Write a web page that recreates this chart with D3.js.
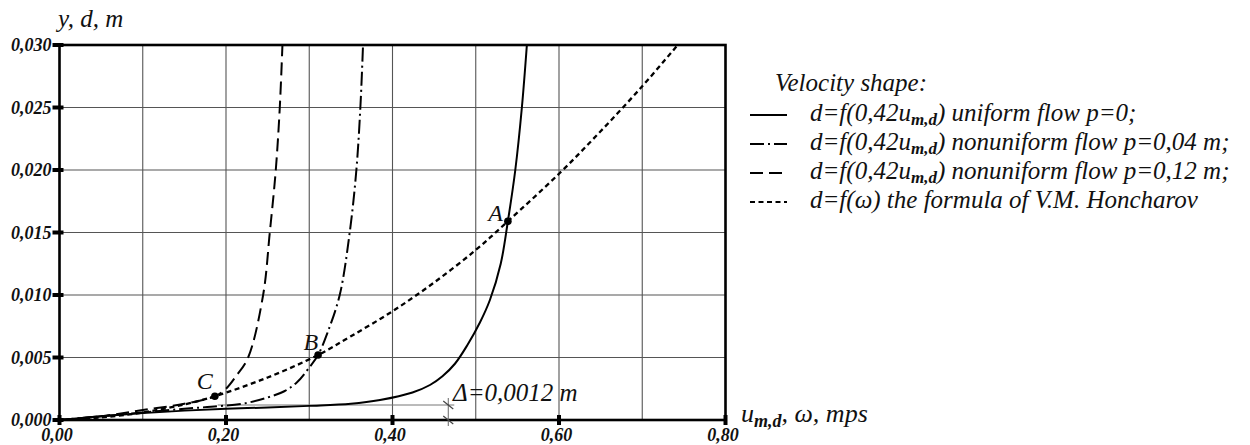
<!DOCTYPE html>
<html>
<head>
<meta charset="utf-8">
<script src="https://cdn.jsdelivr.net/npm/d3@7"></script>
<style>
body { margin: 0; background: #fff; }
text { font-family: "Liberation Serif", "Times New Roman", serif; font-style: italic; fill: #111; }
</style>
</head>
<body>
<div id="chart"></div>
<script>
//Tick values for both axes and the grid
var xTicks = [0, 0.2, 0.4, 0.6, 0.8];
var xGrid = [0, 0.1, 0.2, 0.3, 0.4, 0.5, 0.6, 0.7, 0.8];
var yTicks = [0, 0.005, 0.01, 0.015, 0.02, 0.025, 0.03];

//Curves: [u, d]
var uniformFlow = [[0, 0], [0.05, 0.0003], [0.1, 0.00055], [0.15, 0.00075], [0.2, 0.0009], [0.25, 0.001],
  [0.3, 0.00113], [0.35, 0.0013], [0.385, 0.0016], [0.424, 0.0022], [0.445, 0.0028], [0.46, 0.0035],
  [0.475, 0.0045], [0.49, 0.006], [0.505, 0.0078], [0.517, 0.0096], [0.53, 0.0125], [0.5386, 0.0159],
  [0.5475, 0.02], [0.5554, 0.025], [0.5614, 0.03]];
var flowP004 = [[0, 0], [0.05, 0.0003], [0.1, 0.0006], [0.15, 0.0009], [0.19, 0.0011], [0.22, 0.0013],
  [0.25, 0.0018], [0.27, 0.0023], [0.285, 0.003], [0.3, 0.0042], [0.3106, 0.0052], [0.322, 0.007],
  [0.3366, 0.01], [0.3486, 0.015], [0.3566, 0.02], [0.3614, 0.025], [0.3646, 0.03]];
var flowP012 = [[0, 0], [0.05, 0.0003], [0.1, 0.0008], [0.15, 0.0013], [0.1866, 0.0019], [0.2, 0.0025],
  [0.212, 0.0035], [0.2266, 0.005], [0.2446, 0.01], [0.2526, 0.015], [0.2598, 0.02], [0.2646, 0.025],
  [0.2678, 0.03]];
var honcharov = [[0, 0], [0.05, 0.0002], [0.1, 0.0006], [0.15, 0.00125], [0.1866, 0.0019], [0.25, 0.0034],
  [0.3106, 0.0052], [0.35, 0.0067], [0.4, 0.0087], [0.45, 0.011], [0.5, 0.0136], [0.5386, 0.0159],
  [0.6, 0.0197], [0.65, 0.0231], [0.7, 0.0267], [0.7426, 0.03]];

//Intersection points
var pointNames = ["A", "B", "C"];
var pointU = [0.5386, 0.3106, 0.1866];
var pointD = [0.0159, 0.0052, 0.0019];

//Legend rows
var legendLabels = [
  "uniform flow p=0;",
  "nonuniform flow p=0,04 m;",
  "nonuniform flow p=0,12 m;",
  "the formula of V.M. Honcharov"
];
var legendDash = ["none", "14,4,2,4", "13,6", "5,3.5"];

var width = 1250;
var height = 445;

var svg = d3.select("#chart")
  .append("svg")
  .attr("width", width)
  .attr("height", height);

var x = d3.scaleLinear().domain([0, 0.8]).range([59.5, 725.5]);
var y = d3.scaleLinear().domain([0, 0.03]).range([420, 45]);

var comma = function(f) {
  return function(d) { return d3.format(f)(d).replace(".", ","); };
};

//Grid
svg.append("g")
  .selectAll("line")
  .data(xGrid)
  .enter()
  .append("line")
  .attr("x1", d => x(d)).attr("x2", d => x(d))
  .attr("y1", y(0)).attr("y2", y(0.03))
  .attr("stroke", "#555")
  .attr("stroke-width", 1.1);

svg.append("g")
  .selectAll("line")
  .data(yTicks)
  .enter()
  .append("line")
  .attr("x1", x(0)).attr("x2", x(0.8))
  .attr("y1", d => y(d)).attr("y2", d => y(d))
  .attr("stroke", "#555")
  .attr("stroke-width", 1.1);

//Frame (axes drawn heavier)
svg.append("rect")
  .attr("x", x(0)).attr("y", y(0.03))
  .attr("width", x(0.8) - x(0))
  .attr("height", y(0) - y(0.03))
  .attr("fill", "none")
  .attr("stroke", "#000")
  .attr("stroke-width", 2.6);

//Y axis labels and thick tick marks
var yAxis = d3.axisLeft(y)
  .tickValues(yTicks)
  .tickSize(0)
  .tickPadding(8)
  .tickFormat(comma(".3f"));

svg.append("g")
  .attr("transform", "translate(" + x(0) + ",0)")
  .call(yAxis)
  .call(g => g.select(".domain").remove())
  .selectAll("text")
  .attr("font-size", 18)
  .attr("font-weight", "bold")
  .attr("font-family", "Liberation Serif")
  .attr("font-style", "italic")
  .attr("fill", "#111");

svg.append("g")
  .selectAll("line")
  .data(yTicks)
  .enter()
  .append("line")
  .attr("x1", x(0) - 7).attr("x2", x(0) + 4)
  .attr("y1", d => y(d)).attr("y2", d => y(d))
  .attr("stroke", "#000")
  .attr("stroke-width", 4);

//X axis labels and thick tick marks
var xAxis = d3.axisBottom(x)
  .tickValues(xTicks)
  .tickSize(0)
  .tickFormat(comma(".2f"));

svg.append("g")
  .attr("transform", "translate(0," + y(0) + ")")
  .call(xAxis)
  .call(g => g.select(".domain").remove())
  .selectAll("text")
  .attr("y", 21)
  .attr("dy", 0)
  .attr("dx", -3)
  .attr("font-size", 18)
  .attr("font-weight", "bold")
  .attr("font-family", "Liberation Serif")
  .attr("font-style", "italic")
  .attr("fill", "#111");

svg.append("g")
  .selectAll("line")
  .data(xTicks)
  .enter()
  .append("line")
  .attr("x1", d => x(d)).attr("x2", d => x(d))
  .attr("y1", y(0) - 5).attr("y2", y(0) + 5)
  .attr("stroke", "#000")
  .attr("stroke-width", 4);

//Axis titles
svg.append("text")
  .attr("x", 58)
  .attr("y", 27)
  .attr("font-size", 25)
  .text("y, d, m");

var xTitle = svg.append("text")
  .attr("x", 741)
  .attr("y", 422)
  .attr("font-size", 26);
xTitle.append("tspan").text("u");
xTitle.append("tspan").attr("font-size", 18).attr("font-weight", "bold").attr("dy", 5).text("m,d");
xTitle.append("tspan").attr("dy", -5).text(", ω, mps");

//Delta dimension
var dimX = x(0.467);
svg.append("line")
  .attr("x1", x(0.19)).attr("x2", dimX + 6)
  .attr("y1", y(0.0012)).attr("y2", y(0.0012))
  .attr("stroke", "#777")
  .attr("stroke-width", 1);
svg.append("line")
  .attr("x1", dimX).attr("x2", dimX)
  .attr("y1", y(0.0012) - 7).attr("y2", y(0) + 6)
  .attr("stroke", "#666")
  .attr("stroke-width", 1);
[0.0012, 0].forEach(function(v) {
  svg.append("line")
    .attr("x1", dimX - 5).attr("x2", dimX + 5)
    .attr("y1", y(v) - 4).attr("y2", y(v) + 4)
    .attr("stroke", "#444")
    .attr("stroke-width", 1.2);
});
svg.append("text")
  .attr("x", 453)
  .attr("y", 401)
  .attr("font-size", 25)
  .text("Δ=0,0012 m");

//Curves
var line = d3.line()
  .x(d => x(d[0]))
  .y(d => y(d[1]))
  .curve(d3.curveCatmullRom.alpha(0.5));

var curves = [uniformFlow, flowP004, flowP012, honcharov];
svg.append("g")
  .selectAll("path")
  .data(curves)
  .enter()
  .append("path")
  .attr("d", line)
  .attr("fill", "none")
  .attr("stroke", "#000")
  .attr("stroke-width", (d, i) => i === 3 ? 2.3 : 2)
  .attr("stroke-dasharray", (d, i) => legendDash[i]);

//Intersection points with their letters
svg.append("g")
  .selectAll("circle")
  .data(pointU)
  .enter()
  .append("circle")
  .attr("cx", d => x(d))
  .attr("cy", (d, i) => y(pointD[i]))
  .attr("r", 3.8)
  .attr("fill", "#000");

//letter offsets from their point: A sits left, B and C above-left
var letterShift = [[-5, 0], [0, -5], [-2, -7]];
svg.append("g")
  .selectAll("text")
  .data(pointNames)
  .enter()
  .append("text")
  .attr("x", (d, i) => x(pointU[i]) + letterShift[i][0])
  .attr("y", (d, i) => y(pointD[i]) + letterShift[i][1])
  .attr("text-anchor", "end")
  .attr("font-size", 24)
  .text(d => d);

//Legend
var legend = svg.append("g").attr("transform", "translate(750,0)");

legend.append("text")
  .attr("x", 25)
  .attr("y", 91)
  .attr("font-size", 25)
  .text("Velocity shape:");

var rowY = function(i) { return 121 + i * 29; };

legend.selectAll("line")
  .data(legendDash)
  .enter()
  .append("line")
  .attr("x1", 0).attr("x2", 37)
  .attr("y1", (d, i) => rowY(i) - 6)
  .attr("y2", (d, i) => rowY(i) - 6)
  .attr("stroke", "#000")
  .attr("stroke-width", 2)
  .attr("stroke-dasharray", d => d);

legendLabels.forEach(function(label, i) {
  var t = legend.append("text")
    .attr("x", 60)
    .attr("y", rowY(i))
    .attr("font-size", 25);
  if (i < 3) {
    t.append("tspan").text("d=f(0,42u");
    t.append("tspan").attr("font-size", 17).attr("font-weight", "bold").attr("dy", 4).text("m,d");
    t.append("tspan").attr("dy", -4).text(") " + label);
  }
  else {
    t.text("d=f(ω) " + label);
  }
});
</script>
</body>
</html>
